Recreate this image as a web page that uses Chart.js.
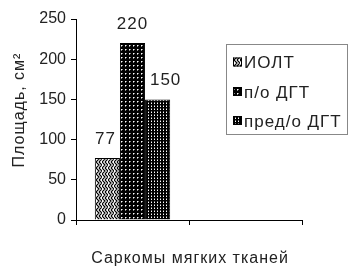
<!DOCTYPE html>
<html>
<head>
<meta charset="utf-8">
<script src="https://cdn.jsdelivr.net/npm/chart.js@4.4.0/dist/chart.umd.min.js"></script>
<style>
  html, body { margin: 0; padding: 0; background: #fff; }
  #wrap { width: 353px; height: 268px; }
</style>
</head>
<body>
<div id="wrap"><canvas id="chart" width="353" height="268"></canvas></div>
<script>
/* ---------- данные ---------- */
const categories = ['Саркомы мягких тканей', ''];
const seriesNames = ['ИОЛТ', 'п/о ДГТ', 'пред/о ДГТ'];
const valuesIolt = [77, null];
const valuesPoDgt = [220, null];
const valuesPredDgt = [150, null];
const yTicks = [0, 50, 100, 150, 200, 250];
const xTitle = 'Саркомы мягких тканей';
const yTitle = 'Площадь, см²';

const FONT = '"Liberation Sans", Arial, sans-serif';
const TEXT = '#222';

/* ---------- штриховки ---------- */
function makePattern(kind) {
  const c = document.createElement('canvas');
  const g = c.getContext('2d');
  if (kind === 'zigzag') {
    c.width = 6; c.height = 6;
    g.fillStyle = '#fff';
    g.fillRect(0, 0, 6, 6);
    g.strokeStyle = '#000';
    g.lineWidth = 1.2;
    g.beginPath();
    g.moveTo(0, 0); g.lineTo(3, 3); g.lineTo(0, 6);
    g.moveTo(3, 0); g.lineTo(6, 3); g.lineTo(3, 6);
    g.stroke();
  } else if (kind === 'dots') {
    c.width = 4; c.height = 4;
    g.fillStyle = '#000';
    g.fillRect(0, 0, 4, 4);
    g.fillStyle = '#fff';
    g.fillRect(1, 1, 1, 1);
    g.fillStyle = '#888';
    g.fillRect(2, 1, 1, 1);
    g.fillRect(1, 2, 1, 1);
  } else {
    c.width = 3; c.height = 3;
    g.fillStyle = '#000';
    g.fillRect(0, 0, 3, 3);
    g.fillStyle = '#fff';
    g.fillRect(1, 1, 1, 1);
    g.fillStyle = '#777';
    g.fillRect(1, 0, 1, 1);
  }
  return document.getElementById('chart').getContext('2d').createPattern(c, 'repeat');
}

const fills = [makePattern('zigzag'), makePattern('dots'), makePattern('grid')];
const seriesValues = [valuesIolt, valuesPoDgt, valuesPredDgt];

/* ---------- подписи, заголовки осей, легенда ---------- */
const decorPlugin = {
  id: 'decor',
  afterDraw(chart) {
    const ctx = chart.ctx;
    ctx.save();
    ctx.fillStyle = TEXT;
    ctx.letterSpacing = '1px';

    // значения над столбиками
    const shiftX = [-2, 0, 8];
    ctx.font = '17px ' + FONT;
    ctx.textAlign = 'center';
    ctx.textBaseline = 'alphabetic';
    chart.data.datasets.forEach((ds, i) => {
      const bar = chart.getDatasetMeta(i).data[0];
      ctx.fillText(String(ds.data[0]), bar.x + shiftX[i], bar.y - 14);
    });

    // подпись оси X
    ctx.font = '16px ' + FONT;
    ctx.fillText(xTitle, 190, 263);

    // подпись оси Y
    ctx.save();
    ctx.translate(24, 110);
    ctx.rotate(-Math.PI / 2);
    ctx.fillText(yTitle, 0, 0);
    ctx.restore();

    // легенда
    ctx.fillStyle = '#fff';
    ctx.fillRect(226, 44, 122, 91);
    ctx.strokeStyle = '#888';
    ctx.lineWidth = 1;
    ctx.strokeRect(226.5, 44.5, 121, 90);
    const rowY = [62, 91.5, 120.5];
    ctx.font = '17px ' + FONT;
    ctx.textAlign = 'left';
    seriesNames.forEach((name, i) => {
      ctx.fillStyle = fills[i];
      ctx.fillRect(233, rowY[i] - 4.5, 9, 9);
      ctx.strokeStyle = '#000';
      ctx.strokeRect(233.5, rowY[i] - 4, 8, 8);
      ctx.fillStyle = TEXT;
      ctx.fillText(name, 244, rowY[i] + 6);
    });
    ctx.restore();
  }
};

new Chart(document.getElementById('chart'), {
  type: 'bar',
  data: {
    labels: categories,
    datasets: seriesNames.map((name, i) => ({
      label: name,
      data: seriesValues[i],
      backgroundColor: fills[i],
      borderColor: '#000',
      borderWidth: 1,
      categoryPercentage: 0.667,
      barPercentage: 1.0
    }))
  },
  options: {
    responsive: false,
    animation: false,
    layout: { padding: { top: 19, right: 51, left: 0, bottom: 0 } },
    plugins: {
      legend: { display: false },
      tooltip: { enabled: false }
    },
    scales: {
      x: {
        offset: true,
        grid: { drawOnChartArea: false, drawTicks: true, tickLength: 5, color: '#000', offset: true },
        border: { color: '#000', width: 1 },
        ticks: { display: false },
        afterFit: s => { s.height = 48; }
      },
      y: {
        min: 0,
        max: 250,
        afterBuildTicks: s => { s.ticks = yTicks.map(v => ({ value: v })); },
        grid: { drawOnChartArea: false, tickLength: 5, color: '#000' },
        border: { color: '#000', width: 1 },
        ticks: { font: { family: FONT, size: 16 }, color: TEXT, padding: 5 },
        afterFit: s => { s.width = 76; }
      }
    }
  },
  plugins: [decorPlugin]
});
</script>
</body>
</html>
